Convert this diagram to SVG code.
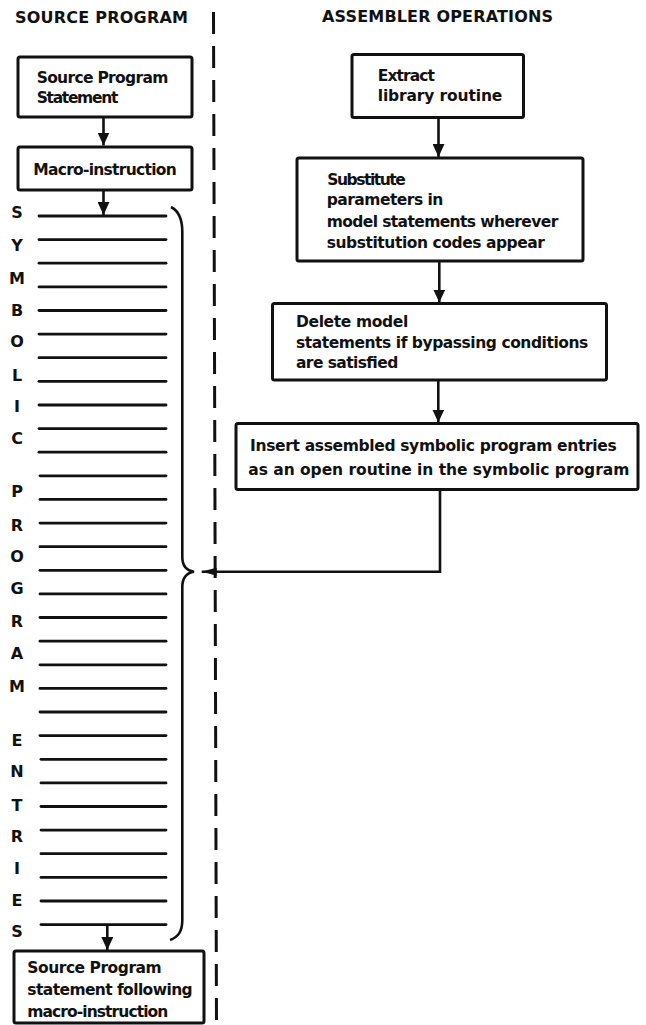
<svg xmlns="http://www.w3.org/2000/svg" width="646" height="1025" viewBox="0 0 646 1025">
<style>
text{font-family:"DejaVu Sans","Liberation Sans",sans-serif;font-weight:bold;fill:#111;}
.hdr{font-size:16px;}
.t{font-size:15.5px;}
.ltr{font-size:16px;text-anchor:middle;}
.box{fill:#fff;stroke:#111;stroke-width:3;}
.conn{fill:none;stroke:#111;stroke-width:2.6;}
.entry{stroke:#111;stroke-width:2.8;stroke-linecap:round;}
.divider{stroke:#111;stroke-width:3;stroke-dasharray:22 12;fill:none;}
</style>
<defs>
<marker id="ah" markerUnits="userSpaceOnUse" viewBox="0 0 13 12" refX="13" refY="6" markerWidth="13" markerHeight="12" orient="auto">
<path d="M0,0 L13,6 L0,12 z" fill="#111"/>
</marker>
<marker id="ahl" markerUnits="userSpaceOnUse" viewBox="0 0 15 8" refX="15" refY="4" markerWidth="15" markerHeight="8" orient="auto">
<path d="M0,0 L15,4 L0,8 z" fill="#111"/>
</marker>
</defs>
<rect width="646" height="1025" fill="#fff"/>

<g id="headers">
<text class="hdr" x="15" y="22.5" textLength="173" lengthAdjust="spacing">SOURCE PROGRAM</text>
<text class="hdr" x="322" y="21.7" textLength="231" lengthAdjust="spacing">ASSEMBLER OPERATIONS</text>
</g>

<path id="divider" class="divider" d="M213.5,12 L216.5,1025"/>

<g id="source-statement">
<rect class="box" x="18" y="57" width="174" height="60" rx="2"/>
<text class="t" x="36.7" y="83.3" textLength="131.6" lengthAdjust="spacing">Source Program</text>
<text class="t" x="36.7" y="103.3" textLength="81.6" lengthAdjust="spacing">Statement</text>
</g>

<g id="macro-instruction">
<rect class="box" x="18" y="147" width="174" height="43" rx="2"/>
<text class="t" x="33.3" y="175" textLength="143.4" lengthAdjust="spacing">Macro-instruction</text>
</g>

<g id="symbolic-entries">
<g class="entry">
<line x1="39" y1="216" x2="166" y2="216"/>
<line x1="39" y1="239.6" x2="166" y2="239.6"/>
<line x1="39" y1="263.2" x2="166" y2="263.2"/>
<line x1="39" y1="286.9" x2="166" y2="286.9"/>
<line x1="39" y1="310.5" x2="166" y2="310.5"/>
<line x1="39" y1="334.1" x2="166" y2="334.1"/>
<line x1="39" y1="357.7" x2="166" y2="357.7"/>
<line x1="39" y1="381.3" x2="166" y2="381.3"/>
<line x1="39" y1="405" x2="166" y2="405"/>
<line x1="39" y1="428.6" x2="166" y2="428.6"/>
<line x1="39" y1="452.2" x2="166" y2="452.2"/>
<line x1="40" y1="475.8" x2="166" y2="475.8"/>
<line x1="40" y1="499.4" x2="166" y2="499.4"/>
<line x1="40" y1="523.1" x2="166" y2="523.1"/>
<line x1="40" y1="546.7" x2="166" y2="546.7"/>
<line x1="40" y1="570.3" x2="166" y2="570.3"/>
<line x1="40" y1="593.9" x2="166" y2="593.9"/>
<line x1="40" y1="617.5" x2="166" y2="617.5"/>
<line x1="40" y1="641.2" x2="166" y2="641.2"/>
<line x1="40" y1="664.8" x2="166" y2="664.8"/>
<line x1="40" y1="688.4" x2="166" y2="688.4"/>
<line x1="40" y1="712" x2="166" y2="712"/>
<line x1="40" y1="735.6" x2="166" y2="735.6"/>
<line x1="41" y1="759.3" x2="166" y2="759.3"/>
<line x1="41" y1="782.9" x2="166" y2="782.9"/>
<line x1="41" y1="806.5" x2="166" y2="806.5"/>
<line x1="41" y1="830.1" x2="166" y2="830.1"/>
<line x1="41" y1="853.7" x2="166" y2="853.7"/>
<line x1="41" y1="877.4" x2="166" y2="877.4"/>
<line x1="41" y1="901" x2="166" y2="901"/>
<line x1="41" y1="924.6" x2="166" y2="924.6"/>
</g>
<g id="letters">
<text class="ltr" x="17" y="218.3">S</text>
<text class="ltr" x="17" y="250.5">Y</text>
<text class="ltr" x="17" y="283.5">M</text>
<text class="ltr" x="17" y="315.5">B</text>
<text class="ltr" x="17" y="347.2">O</text>
<text class="ltr" x="17" y="380.5">L</text>
<text class="ltr" x="17" y="412.2">I</text>
<text class="ltr" x="17" y="443.8">C</text>
<text class="ltr" x="17" y="497.2">P</text>
<text class="ltr" x="17" y="530.5">R</text>
<text class="ltr" x="17" y="562.2">O</text>
<text class="ltr" x="17" y="593.8">G</text>
<text class="ltr" x="17" y="627.2">R</text>
<text class="ltr" x="17" y="658.8">A</text>
<text class="ltr" x="17" y="692.2">M</text>
<text class="ltr" x="17" y="745.5">E</text>
<text class="ltr" x="17" y="777.2">N</text>
<text class="ltr" x="17" y="810.5">T</text>
<text class="ltr" x="17" y="842.2">R</text>
<text class="ltr" x="17" y="873.8">I</text>
<text class="ltr" x="17" y="905.5">E</text>
<text class="ltr" x="17" y="937.2">S</text>
</g>
<path id="brace" class="conn" d="M171,207 C179,211 182.3,219 182.3,232 L182.3,557 Q182.3,570 194,571.7 Q182.3,573.5 182.3,587 L182.3,920 C182.3,932 178,937 170,940"/>
</g>

<g id="following-statement">
<rect class="box" x="14" y="951" width="190" height="72" rx="2"/>
<text class="t" x="27.3" y="973.3" textLength="134.4" lengthAdjust="spacing">Source Program</text>
<text class="t" x="27.3" y="995" textLength="165.4" lengthAdjust="spacing">statement following</text>
<text class="t" x="27.3" y="1016.7" textLength="141" lengthAdjust="spacing">macro-instruction</text>
</g>

<g id="extract">
<rect class="box" x="352" y="54.5" width="171.5" height="63" rx="2"/>
<text class="t" x="377.7" y="81" textLength="57.3" lengthAdjust="spacing">Extract</text>
<text class="t" x="377.7" y="101" textLength="124.6" lengthAdjust="spacing">library routine</text>
</g>

<g id="substitute">
<rect class="box" x="297" y="158" width="286" height="103" rx="2"/>
<text class="t" x="327.3" y="185" textLength="78.4" lengthAdjust="spacing">Substitute</text>
<text class="t" x="326.7" y="205" textLength="116.6" lengthAdjust="spacing">parameters in</text>
<text class="t" x="326.7" y="226.7" textLength="231.6" lengthAdjust="spacing">model statements wherever</text>
<text class="t" x="326.7" y="248.3" textLength="218.3" lengthAdjust="spacing">substitution codes appear</text>
</g>

<g id="delete">
<rect class="box" x="272.5" y="303.5" width="334" height="76.5" rx="2"/>
<text class="t" x="296" y="326.7" textLength="112.3" lengthAdjust="spacing">Delete model</text>
<text class="t" x="296" y="348.3" textLength="292.3" lengthAdjust="spacing">statements if bypassing conditions</text>
<text class="t" x="296" y="368.3" textLength="102.3" lengthAdjust="spacing">are satisfied</text>
</g>

<g id="insert">
<rect class="box" x="236" y="423.5" width="402" height="66" rx="2"/>
<text class="t" x="250" y="450.7" textLength="366.7" lengthAdjust="spacing">Insert assembled symbolic program entries</text>
<text class="t" x="248.3" y="475" textLength="381" lengthAdjust="spacing">as an open routine in the symbolic program</text>
</g>

<g id="connectors">
<line class="conn" x1="103.5" y1="117" x2="103.5" y2="145.5" marker-end="url(#ah)"/>
<line class="conn" x1="103.5" y1="190" x2="103.5" y2="215" marker-end="url(#ah)"/>
<line class="conn" x1="107.3" y1="924.6" x2="107.3" y2="950" marker-end="url(#ah)"/>
<line class="conn" x1="438.5" y1="117.5" x2="438.5" y2="157" marker-end="url(#ah)"/>
<line class="conn" x1="439.3" y1="261" x2="439.3" y2="302.5" marker-end="url(#ah)"/>
<line class="conn" x1="438.3" y1="380" x2="438.3" y2="422.5" marker-end="url(#ah)"/>
<polyline class="conn" points="440,489.3 440,571.7 201.7,571.7" marker-end="url(#ahl)"/>
</g>
</svg>
